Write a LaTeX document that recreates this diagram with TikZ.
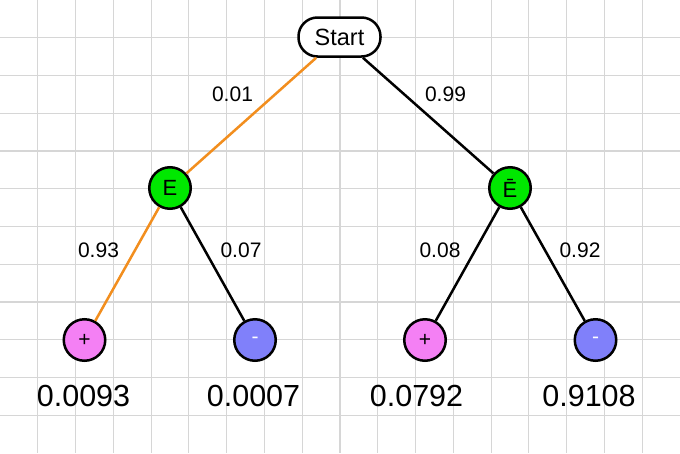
\documentclass[tikz,border=0pt]{standalone}
\usepackage{fontspec}
\setmainfont{Liberation Sans}
\usetikzlibrary{positioning}
\definecolor{gridgray}{RGB}{214,214,214}
\definecolor{pathorange}{RGB}{242,142,30}
\definecolor{evtgreen}{RGB}{0,232,0}
\definecolor{pospink}{RGB}{244,128,244}
\definecolor{negblue}{RGB}{128,128,250}

\begin{document}
\begin{tikzpicture}[x=1pt,y=-1pt,
	gridline/.style={draw=gridgray,line width=1.2pt},
	branch/.style={line width=2.5pt},
	chosen/.style={branch,draw=pathorange},
	prob/.style={font=\fontsize{21}{25}\selectfont,inner sep=0pt},
	result/.style={font=\fontsize{30.5}{36}\selectfont,inner sep=0pt},
	startbox/.style={draw,line width=2.5pt,fill=white,rounded corners=19pt,
		minimum width=82pt,minimum height=39pt,inner sep=0pt,font=\fontsize{23.5}{28}\selectfont},
	outcome/.style={circle,draw,line width=2.5pt,minimum size=41.5pt,inner sep=0pt},
	evt/.style={outcome,fill=evtgreen,font=\fontsize{22}{26}\selectfont},
	posleaf/.style={outcome,fill=pospink,font=\fontsize{21}{25}\selectfont},
	negleaf/.style={outcome,fill=negblue,text=white,font=\fontsize{21}{25}\selectfont}]

	% grid paper behind the tree
	\useasboundingbox (0,0) rectangle (680,453);
	\fill[white] (0,0) rectangle (680,453);
	\foreach \i in {1,...,17} \draw[gridline] (\i*680/18,0) -- (\i*680/18,453);
	\foreach \j in {1,...,11} \draw[gridline] (0,\j*453/12) -- (680,\j*453/12);

	\node[startbox] (start) at (339.5,37) {Start};
	\node[evt] (e) at (170,188) {E};
	\node[evt] (ebar) at (510,188) {Ē};
	\node[posleaf] (ep) at (84.5,340) {+};
	\node[negleaf] (en) at (255,340) {-};
	\node[posleaf] (bp) at (425,340) {+};
	\node[negleaf] (bn) at (595.5,340) {-};

	\draw[chosen] (start) -- (e);
	\draw[branch] (start) -- (ebar);
	\draw[chosen] (e) -- (ep);
	\draw[branch] (e) -- (en);
	\draw[branch] (ebar) -- (bp);
	\draw[branch] (ebar) -- (bn);

	\node[prob] (pe) at (232.5,94) {0.01};
	\node[prob] (pebar) at (445.5,94) {0.99};
	\node[prob] (pep) at (98.5,250) {0.93};
	\node[prob] (pen) at (241,250) {0.07};
	\node[prob] (pbp) at (440,250) {0.08};
	\node[prob] (pbn) at (580,250) {0.92};

	\node[result] (rep) at (83.5,396) {0.0093};
	\node[result] (ren) at (253.5,396) {0.0007};
	\node[result] (rbp) at (416.5,396) {0.0792};
	\node[result] (rbn) at (589,396) {0.9108};
\end{tikzpicture}
\end{document}
